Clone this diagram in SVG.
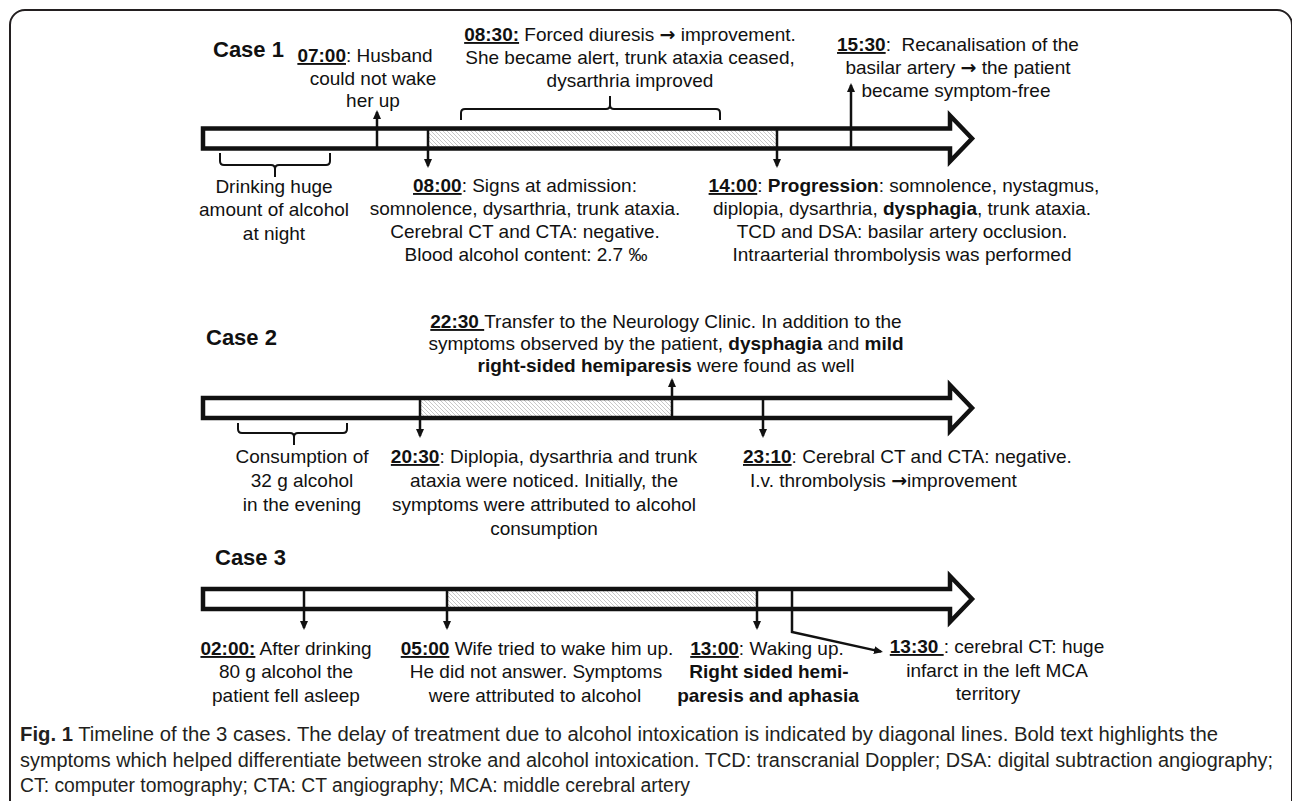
<svg xmlns="http://www.w3.org/2000/svg" width="1292" height="801" viewBox="0 0 1292 801">
<defs>
<pattern id="hatch" patternUnits="userSpaceOnUse" width="4" height="4">
<path d="M-1,-1 L5,5 M-1,3 L1,5 M3,-1 L5,1" stroke="#b0b0b0" stroke-width="0.7"/>
</pattern>
<marker id="ah" markerUnits="userSpaceOnUse" markerWidth="9" markerHeight="8" viewBox="0 0 9 8" refX="7" refY="4" orient="auto">
<path d="M0,0 L9,4 L0,8 Z" fill="#111"/>
</marker>
<style>
.t{font-family:"Liberation Sans",Arial,sans-serif;font-size:19px;fill:#111}
.m{text-anchor:middle}
.b{font-weight:bold}
.u{font-weight:bold;text-decoration:underline}
.ar{font-family:"DejaVu Sans",sans-serif;font-weight:bold}
.case{font-family:"Liberation Sans",Arial,sans-serif;font-size:22px;font-weight:bold;fill:#111}
.bar{fill:none;stroke:#111;stroke-width:4.5;stroke-linejoin:miter}
.hat{fill:url(#hatch);stroke:none}
.tick{fill:none;stroke:#111;stroke-width:2.5}
.brace{fill:none;stroke:#111;stroke-width:2}
.cap{font-family:"Liberation Sans",Arial,sans-serif;font-size:20px;fill:#231f20}
</style>
</defs>
<rect x="10" y="10" width="1282" height="900" rx="15" fill="none" stroke="#231f20" stroke-width="2"/>

<g id="case1">
<text class="case" x="213" y="57">Case 1</text>
<rect class="hat" x="428" y="128.5" width="349" height="20"/>
<path class="bar" d="M203,128.5 H950 V115.5 L972,138.5 L950,161.5 V148.5 H203 Z"/>
</g>
<g id="case2">
<text class="case" x="206" y="345">Case 2</text>
<rect class="hat" x="420" y="398" width="252" height="20"/>
<path class="bar" d="M203,398 H950 V385 L972,408 L950,431 V418 H203 Z"/>
</g>
<g id="case3">
<text class="case" x="215" y="565">Case 3</text>
<rect class="hat" x="447" y="589" width="310" height="20"/>
<path class="bar" d="M203,589 H950 V576 L972,599 L950,622 V609 H203 Z"/>
</g>

<g id="connectors">
<line class="tick" x1="377" y1="149" x2="377" y2="112" marker-end="url(#ah)"/>
<line class="tick" x1="428" y1="128.5" x2="428" y2="166" marker-end="url(#ah)"/>
<line class="tick" x1="777" y1="128.5" x2="777" y2="166" marker-end="url(#ah)"/>
<line class="tick" x1="851" y1="148.5" x2="851" y2="85" marker-end="url(#ah)"/>
<path class="brace" d="M220,153 V161 Q220,165 224,165 H271 Q275,165 275,169 V177 M275,169 Q275,165 279,165 H326 Q330,165 330,161 V153"/>
<path class="brace" d="M461,120 V113 Q461,109 465,109 H606 Q610,109 610,105 V96 M610,105 Q610,109 614,109 H716 Q720,109 720,113 V120"/>
<line class="tick" x1="420" y1="398" x2="420" y2="436" marker-end="url(#ah)"/>
<line class="tick" x1="672" y1="418" x2="672" y2="380" marker-end="url(#ah)"/>
<line class="tick" x1="763" y1="398" x2="763" y2="436" marker-end="url(#ah)"/>
<path class="brace" d="M238,423 V429 Q238,433 242,433 H290 Q294,433 294,437 V445 M294,437 Q294,433 298,433 H343 Q347,433 347,429 V423"/>
<line class="tick" x1="304" y1="589" x2="304" y2="628" marker-end="url(#ah)"/>
<line class="tick" x1="447" y1="589" x2="447" y2="628" marker-end="url(#ah)"/>
<line class="tick" x1="757" y1="589" x2="757" y2="628" marker-end="url(#ah)"/>
<polyline class="tick" points="792,589 792,632 881,651.6" marker-end="url(#ah)"/>
</g>

<g id="e0700">
<text class="t m" x="365" y="62"><tspan class="u">07:00</tspan>: Husband</text>
<text class="t m" x="373" y="85">could not wake</text>
<text class="t m" x="373" y="107">her up</text>
</g>
<g id="e0830">
<text class="t m" x="630" y="41"><tspan class="u">08:30:</tspan> Forced diuresis <tspan class="ar">→</tspan> improvement.</text>
<text class="t m" x="630" y="64">She became alert, trunk ataxia ceased,</text>
<text class="t m" x="630" y="87">dysarthria improved</text>
</g>
<g id="e1530">
<text class="t m" x="958" y="51" style="white-space:pre"><tspan class="u">15:30</tspan>:  Recanalisation of the</text>
<text class="t m" x="958" y="74">basilar artery <tspan class="ar">→</tspan> the patient</text>
<text class="t m" x="956" y="97">became symptom-free</text>
</g>
<g id="drinking">
<text class="t m" x="274" y="193">Drinking huge</text>
<text class="t m" x="274" y="216">amount of alcohol</text>
<text class="t m" x="274" y="240">at night</text>
</g>
<g id="e0800">
<text class="t m" x="525" y="192"><tspan class="u">08:00</tspan>: Signs at admission:</text>
<text class="t m" x="525" y="215">somnolence, dysarthria, trunk ataxia.</text>
<text class="t m" x="525" y="238">Cerebral CT and CTA: negative.</text>
<text class="t m" x="526" y="261">Blood alcohol content: 2.7 ‰</text>
</g>
<g id="e1400">
<text class="t m" x="904" y="192"><tspan class="u">14:00</tspan>: <tspan class="b">Progression</tspan>: somnolence, nystagmus,</text>
<text class="t m" x="902" y="215">diplopia, dysarthria, <tspan class="b">dysphagia</tspan>, trunk ataxia.</text>
<text class="t m" x="902" y="238">TCD and DSA: basilar artery occlusion.</text>
<text class="t m" x="902" y="261">Intraarterial thrombolysis was performed</text>
</g>

<g id="e2230">
<text class="t m" x="666" y="328" style="white-space:pre"><tspan class="u">22:30 </tspan>Transfer to the Neurology Clinic. In addition to the</text>
<text class="t m" x="666" y="350" style="white-space:pre">symptoms observed by the patient, <tspan class="b">dysphagia</tspan> and <tspan class="b">mild</tspan></text>
<text class="t m" x="666" y="372" style="white-space:pre"><tspan class="b">right-sided hemiparesis</tspan> were found as well</text>
</g>
<g id="consumption">
<text class="t m" x="302" y="463">Consumption of</text>
<text class="t m" x="302" y="487">32 g alcohol</text>
<text class="t m" x="302" y="511">in the evening</text>
</g>
<g id="e2030">
<text class="t m" x="544" y="463"><tspan class="u">20:30</tspan>: Diplopia, dysarthria and trunk</text>
<text class="t m" x="544" y="487">ataxia were noticed. Initially, the</text>
<text class="t m" x="544" y="511">symptoms were attributed to alcohol</text>
<text class="t m" x="544" y="535">consumption</text>
</g>
<g id="e2310">
<text class="t" x="743" y="463"><tspan class="u">23:10</tspan>: Cerebral CT and CTA: negative.</text>
<text class="t" x="750" y="487">I.v. thrombolysis <tspan class="ar">→</tspan>improvement</text>
</g>

<g id="e0200">
<text class="t m" x="286" y="655"><tspan class="u">02:00:</tspan> After drinking</text>
<text class="t m" x="286" y="678">80 g alcohol the</text>
<text class="t m" x="286" y="702">patient fell asleep</text>
</g>
<g id="e0500">
<text class="t m" x="537" y="655"><tspan class="u">05:00</tspan> Wife tried to wake him up.</text>
<text class="t m" x="536" y="678">He did not answer. Symptoms</text>
<text class="t m" x="535" y="702">were attributed to alcohol</text>
</g>
<g id="e1300">
<text class="t m" x="767" y="655"><tspan class="u">13:00</tspan>: Waking up.</text>
<text class="t m b" x="769" y="678">Right sided hemi-</text>
<text class="t m b" x="768" y="702">paresis and aphasia</text>
</g>
<g id="e1330">
<text class="t m" x="997" y="653" style="white-space:pre"><tspan class="u">13:30 </tspan>: cerebral CT: huge</text>
<text class="t m" x="997" y="677">infarct in the left MCA</text>
<text class="t m" x="988" y="700">territory</text>
</g>

<g id="caption">
<text class="cap" x="20" y="741" textLength="1198" lengthAdjust="spacingAndGlyphs"><tspan font-weight="bold">Fig. 1</tspan> Timeline of the 3 cases. The delay of treatment due to alcohol intoxication is indicated by diagonal lines. Bold text highlights the</text>
<text class="cap" x="20" y="767" textLength="1253" lengthAdjust="spacingAndGlyphs">symptoms which helped differentiate between stroke and alcohol intoxication. TCD: transcranial Doppler; DSA: digital subtraction angiography;</text>
<text class="cap" x="20" y="792" textLength="670" lengthAdjust="spacingAndGlyphs">CT: computer tomography; CTA: CT angiography; MCA: middle cerebral artery</text>
</g>
</svg>
